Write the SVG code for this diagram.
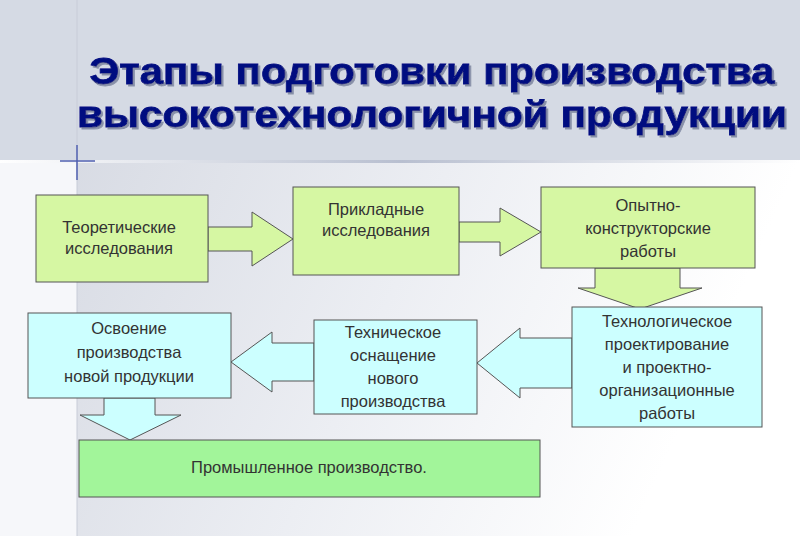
<svg xmlns="http://www.w3.org/2000/svg" width="800" height="536" viewBox="0 0 800 536">
<defs>
<linearGradient id="bg" x1="0" y1="0" x2="1" y2="0.3">
<stop offset="0" stop-color="#d0d4de"/><stop offset="0.6" stop-color="#eceef3"/><stop offset="1" stop-color="#ffffff"/>
</linearGradient>
<linearGradient id="hl" x1="0" y1="0" x2="1" y2="0">
<stop offset="0" stop-color="#ffffff"/><stop offset="0.5" stop-color="#b8bfd0"/><stop offset="1" stop-color="#ffffff"/>
</linearGradient>
<filter id="sh" x="-5%" y="-20%" width="110%" height="140%">
<feDropShadow dx="2" dy="2" stdDeviation="0.5" flood-color="#8890a8"/>
</filter>
</defs>
<style>
.g{fill:#d6f7a3;stroke:#555;stroke-width:1}
.c{fill:#ccffff;stroke:#555;stroke-width:1}
.p{fill:#a2f59a;stroke:#555;stroke-width:1}
.t{font-family:"Liberation Sans",Arial,sans-serif;font-size:16.5px;fill:#333;text-anchor:middle}
.h{font-family:"Liberation Sans",Arial,sans-serif;font-size:37px;font-weight:bold;text-anchor:middle;fill:#000a80;stroke:#000a80;stroke-width:0.8}
</style>
<rect width="800" height="536" fill="url(#bg)"/>
<rect width="800" height="160" fill="#d5dae4"/>
<rect x="0" y="160" width="77" height="376" fill="#f6f7fa"/>
<rect x="0" y="160" width="800" height="3" fill="url(#hl)"/>
<line x1="77" y1="0" x2="77" y2="536" stroke="#c8ccd8" stroke-width="1"/>
<line x1="60" y1="161" x2="95" y2="161" stroke="#5060b0" stroke-width="1.5"/>
<line x1="77" y1="145" x2="77" y2="180" stroke="#5060b0" stroke-width="1.5"/>
<g id="title" filter="url(#sh)">
<text class="h" x="432" y="84" textLength="685" lengthAdjust="spacingAndGlyphs">Этапы подготовки производства</text>
<text class="h" x="432" y="127" textLength="710" lengthAdjust="spacingAndGlyphs">высокотехнологичной продукции</text>
</g>
<g id="connectors">
<polygon class="g" points="208,227 252,227 252,212 293,239 252,266 252,251 208,251"/>
<polygon class="g" points="459,222 500,222 500,208 541,232 500,256 500,242 459,242"/>
<polygon class="g" points="595,268 680,268 680,288 702,288 640,309 578,288 595,288"/>
<polygon class="c" points="572,338 520,338 520,328 477,363 520,398 520,388 572,388"/>
<polygon class="c" points="314,343 272,343 272,332 231,362 272,392 272,381 314,381"/>
<polygon class="c" points="104,398 155,398 155,415 181,415 130,440 80,415 104,415"/>
</g>
<g id="n1"><rect class="g" x="36" y="195" width="172" height="87"/>
<text class="t" x="119" y="233">Теоретические</text><text class="t" x="119" y="254">исследования</text></g>
<g id="n2"><rect class="g" x="293" y="187" width="166" height="88"/>
<text class="t" x="376" y="215">Прикладные</text><text class="t" x="376" y="236">исследования</text></g>
<g id="n3"><rect class="g" x="541" y="187" width="214" height="81"/>
<text class="t" x="648" y="211">Опытно-</text><text class="t" x="648" y="234">конструкторские</text><text class="t" x="648" y="257">работы</text></g>
<g id="n4"><rect class="c" x="572" y="307" width="190" height="120"/>
<text class="t" x="667" y="327">Технологическое</text><text class="t" x="667" y="350">проектирование</text><text class="t" x="667" y="373">и проектно-</text><text class="t" x="667" y="396">организационные</text><text class="t" x="667" y="419">работы</text></g>
<g id="n5"><rect class="c" x="314" y="320" width="163" height="94"/>
<text class="t" x="393" y="338">Техническое</text><text class="t" x="393" y="361">оснащение</text><text class="t" x="393" y="384">нового</text><text class="t" x="393" y="407">производства</text></g>
<g id="n6"><rect class="c" x="28" y="313" width="203" height="85"/>
<text class="t" x="129" y="334">Освоение</text><text class="t" x="129" y="358">производства</text><text class="t" x="129" y="382">новой продукции</text></g>
<g id="n7"><rect class="p" x="79" y="440" width="461" height="57"/>
<text class="t" x="309" y="473">Промышленное производство.</text></g>
</svg>
